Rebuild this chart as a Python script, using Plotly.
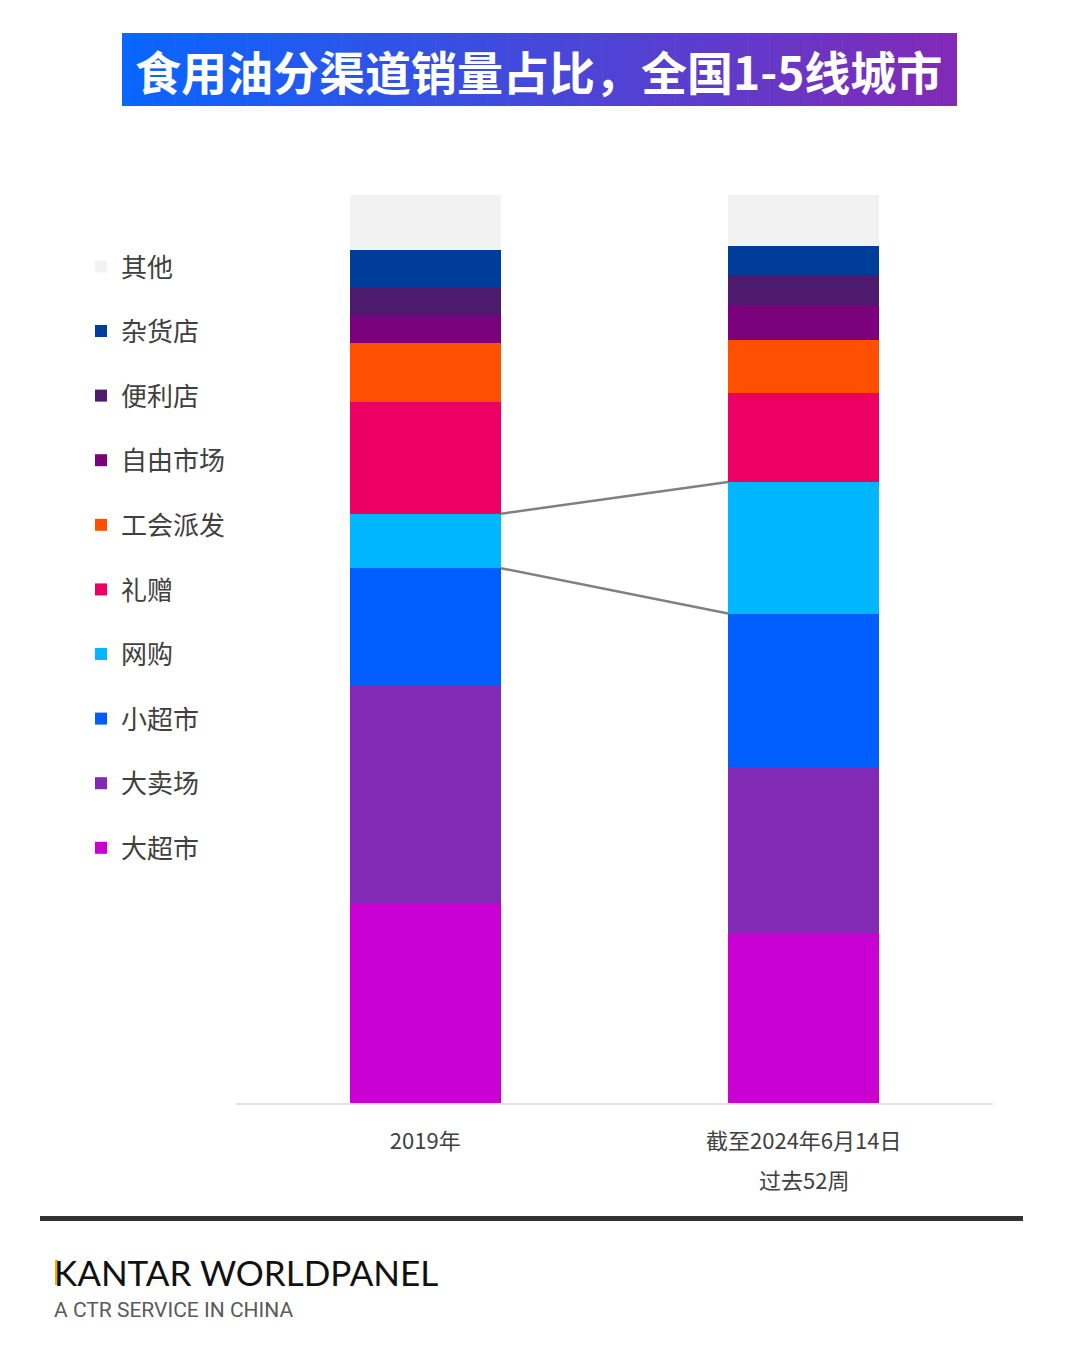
"""
食用油分渠道销量占比 (2019 vs 截至2024年6月14日过去52周) - 堆叠柱状图
"""
import plotly.graph_objects as go

W, H = 1080, 1349
OFF = 8  # 页面 body margin 补偿
# 绘图区像素位置 (页面坐标)
PLOT_L, PLOT_R, PLOT_T, PLOT_B = 236, 993, 195, 1103

# 数据
periods = ['2019年', '截至2024年6月14日']
period_sub = '过去52周'
channels = ['大超市', '大卖场', '小超市', '网购', '礼赠', '工会派发', '自由市场', '便利店', '杂货店', '其他']
share_2019 = [21.9, 24.0, 13.0, 6.0, 12.3, 6.5, 3.1, 3.0, 4.1, 6.1]
share_2024 = [18.6, 18.4, 16.9, 14.5, 9.8, 5.8, 3.9, 3.3, 3.2, 5.6]
channel_colors = ['#C800D2', '#8229B6', '#005EFF', '#00B6FF', '#EC0064',
                  '#FF4F00', '#7A007C', '#4E1A6E', '#003C9A', '#F2F2F2']
highlight = '网购'

title_text = '食用油分渠道销量占比，全国1-5线城市'
brand = 'KANTAR WORLDPANEL'
brand_sub = 'A CTR SERVICE IN CHINA'


def px_x(x):
    """页面像素 x -> paper 坐标"""
    return (x - PLOT_L) / (PLOT_R - PLOT_L)


def px_y(y):
    """页面像素 y -> paper 坐标"""
    return (PLOT_B - y) / (PLOT_B - PLOT_T)


def lerp_color(c1, c2, t):
    return 'rgb({},{},{})'.format(*[round(a + (b - a) * t) for a, b in zip(c1, c2)])


fig = go.Figure()

x_pos = list(range(len(periods)))
for i, ch in enumerate(channels):
    fig.add_trace(go.Bar(
        x=x_pos,
        y=[share_2019[i], share_2024[i]],
        name=ch,
        legendgroup=ch,
        legendrank=len(channels) - i,
        marker=dict(color=channel_colors[i], line=dict(width=0)),
        width=0.4,
    ))

# 网购 连接线
k = channels.index(highlight)
bottom_19, bottom_24 = sum(share_2019[:k]), sum(share_2024[:k])
top_19, top_24 = bottom_19 + share_2019[k], bottom_24 + share_2024[k]
for y0, y1 in [(top_19, top_24), (bottom_19, bottom_24)]:
    fig.add_trace(go.Scatter(
        x=[0.2, 0.8], y=[y0, y1], mode='lines',
        line=dict(color='#808080', width=2.5),
        showlegend=False, hoverinfo='skip',
    ))

shapes = []
# 标题渐变背景
n_strips = 80
tx0, tx1, ty0, ty1 = 122, 957, 33, 106
c_left, c_right = (8, 102, 255), (130, 42, 182)
for s in range(n_strips):
    xa = tx0 + (tx1 - tx0) * s / n_strips
    xb = tx0 + (tx1 - tx0) * (s + 1) / n_strips + 0.6
    shapes.append(dict(
        type='rect', xref='paper', yref='paper',
        x0=px_x(xa), x1=px_x(min(xb, tx1)), y0=px_y(ty1), y1=px_y(ty0),
        fillcolor=lerp_color(c_left, c_right, (s + 0.5) / n_strips),
        line=dict(width=0), layer='below',
    ))
# 底部分隔线
shapes.append(dict(
    type='line', xref='paper', yref='paper',
    x0=px_x(40), x1=px_x(1023), y0=px_y(1218.5), y1=px_y(1218.5),
    line=dict(color='#333333', width=5),
))
# logo K 的金色竖线
shapes.append(dict(
    type='rect', xref='paper', yref='paper',
    x0=px_x(55), x1=px_x(58), y0=px_y(1285), y1=px_y(1260),
    fillcolor='#E3B505', line=dict(width=0),
))

annotations = [
    dict(text=f'<b>{title_text}</b>', xref='paper', yref='paper',
         x=px_x(538), y=px_y(70), showarrow=False, xanchor='center', yanchor='middle',
         font=dict(size=46, color='white', family='Noto Sans CJK SC')),
    dict(text=period_sub, xref='x', yref='paper', x=1, y=px_y(1179),
         showarrow=False, xanchor='center', yanchor='middle',
         font=dict(size=22, color='#404040', family='Noto Sans CJK SC')),
    dict(text=brand, xref='paper', yref='paper', x=px_x(52), y=px_y(1272),
         showarrow=False, xanchor='left', yanchor='middle',
         font=dict(size=35, color='#111111', family='Lato')),
    dict(text=brand_sub, xref='paper', yref='paper', x=px_x(52), y=px_y(1310),
         showarrow=False, xanchor='left', yanchor='middle',
         font=dict(size=21, color='#5a5a5a', family='Roboto')),
]

fig.update_layout(
    width=W, height=H,
    margin=dict(l=PLOT_L - OFF, r=W - PLOT_R + OFF, t=PLOT_T - OFF, b=H - PLOT_B + OFF,
                autoexpand=False),
    barmode='stack',
    plot_bgcolor='white', paper_bgcolor='white',
    font=dict(family='Noto Sans CJK SC', color='#404040'),
    shapes=shapes,
    annotations=annotations,
    legend=dict(
        traceorder='grouped',
        tracegroupgap=27.8,
        font=dict(size=26, color='#404040', family='Noto Sans CJK SC'),
        xref='container', yref='container',
        x=(81 - OFF) / W, xanchor='left',
        y=1 - (243 - OFF) / H, yanchor='top',
        bgcolor='rgba(0,0,0,0)',
    ),
)
fig.update_xaxes(
    range=[-0.5, 1.5],
    tickvals=x_pos, ticktext=periods,
    tickfont=dict(size=22, color='#404040'),
    ticklabelstandoff=18,
    showgrid=False, zeroline=False,
    showline=True, linecolor='#E3E3E3', linewidth=2,
    ticks='',
)
fig.update_yaxes(
    range=[0, 100],
    showgrid=False, zeroline=False, showticklabels=False, showline=False,
)

fig.write_html('out.html')
